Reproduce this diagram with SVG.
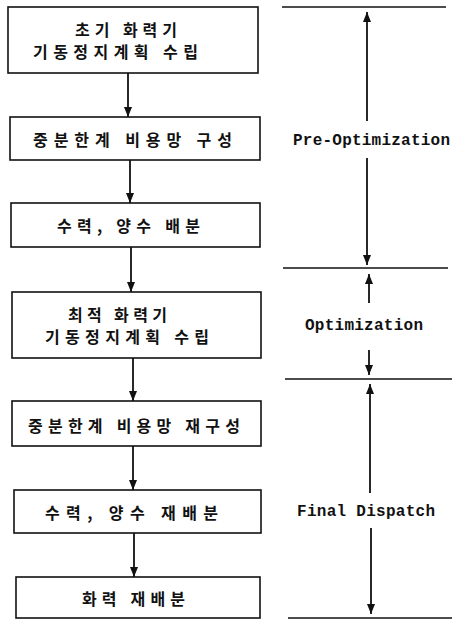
<svg xmlns="http://www.w3.org/2000/svg" width="455" height="619" viewBox="0 0 455 619">
  <style>
    .box { fill: #ffffff; stroke: #111111; stroke-width: 1.6; }
    .kt { font-family: "Noto Sans CJK KR", "Noto Sans", sans-serif; font-size: 16px; font-weight: 700; fill: #111111; }
    .et { font-family: "Liberation Mono", "DejaVu Sans Mono", monospace; font-size: 16px; font-weight: 700; fill: #111111; }
    .conn { stroke: #111111; stroke-width: 1.8; fill: none; marker-end: url(#ah); }
    .sep { stroke: #111111; stroke-width: 1.5; fill: none; }
  </style>
  <defs>
    <marker id="ah" viewBox="0 0 10 8" refX="10" refY="4" markerWidth="10" markerHeight="8" markerUnits="userSpaceOnUse" orient="auto">
      <path d="M0,0 L10,4 L0,8 z" fill="#111111"/>
    </marker>
  </defs>
  <rect width="455" height="619" fill="#ffffff"/>

  <g id="n1">
    <rect class="box" x="8" y="7" width="250" height="66"/>
    <text class="kt" x="75" y="36" textLength="102" lengthAdjust="spacing">초기 화력기</text>
    <text class="kt" x="33" y="58" textLength="165" lengthAdjust="spacing">기동정지계획 수립</text>
  </g>
  <g id="n2">
    <rect class="box" x="10" y="117" width="250" height="43"/>
    <text class="kt" x="33" y="146" textLength="199" lengthAdjust="spacing">중분한계 비용망 구성</text>
  </g>
  <g id="n3">
    <rect class="box" x="11" y="203" width="249" height="44"/>
    <text class="kt" x="57" y="232" textLength="143" lengthAdjust="spacing">수력, 양수 배분</text>
  </g>
  <g id="n4">
    <rect class="box" x="12" y="292" width="249" height="66"/>
    <text class="kt" x="68" y="321" textLength="99" lengthAdjust="spacing">최적 화력기</text>
    <text class="kt" x="45" y="343" textLength="164" lengthAdjust="spacing">기동정지계획 수립</text>
  </g>
  <g id="n5">
    <rect class="box" x="12" y="401" width="249" height="45"/>
    <text class="kt" x="28" y="432" textLength="212" lengthAdjust="spacing">중분한계 비용망 재구성</text>
  </g>
  <g id="n6">
    <rect class="box" x="14" y="490" width="247" height="43"/>
    <text class="kt" x="45" y="519" textLength="173" lengthAdjust="spacing">수력, 양수 재배분</text>
  </g>
  <g id="n7">
    <rect class="box" x="16" y="577" width="244" height="41"/>
    <text class="kt" x="82" y="605" textLength="103" lengthAdjust="spacing">화력 재배분</text>
  </g>

  <g id="connectors">
    <line class="conn" x1="128" y1="73" x2="128" y2="117"/>
    <line class="conn" x1="130" y1="160" x2="130" y2="203"/>
    <line class="conn" x1="131" y1="247" x2="131" y2="292"/>
    <line class="conn" x1="133" y1="358" x2="133" y2="401"/>
    <line class="conn" x1="133" y1="446" x2="133" y2="490"/>
    <line class="conn" x1="134" y1="533" x2="134" y2="577"/>
  </g>

  <g id="phases">
    <line class="sep" x1="282" y1="7" x2="446" y2="7"/>
    <line class="sep" x1="283" y1="268" x2="448" y2="268"/>
    <line class="sep" x1="285" y1="379" x2="452" y2="379"/>
    <line class="sep" x1="288" y1="618" x2="452" y2="618"/>

    <line class="conn" x1="367" y1="121" x2="367" y2="12"/>
    <text class="et" x="293" y="145" textLength="157" lengthAdjust="spacing">Pre-Optimization</text>
    <line class="conn" x1="367" y1="158" x2="367" y2="265"/>

    <line class="conn" x1="369" y1="303" x2="369" y2="274"/>
    <text class="et" x="305" y="330" textLength="118" lengthAdjust="spacing">Optimization</text>
    <line class="conn" x1="369" y1="350" x2="369" y2="375"/>

    <line class="conn" x1="370" y1="493" x2="370" y2="384"/>
    <text class="et" x="297" y="516" textLength="138" lengthAdjust="spacing">Final Dispatch</text>
    <line class="conn" x1="371" y1="528" x2="371" y2="614"/>
  </g>
</svg>
